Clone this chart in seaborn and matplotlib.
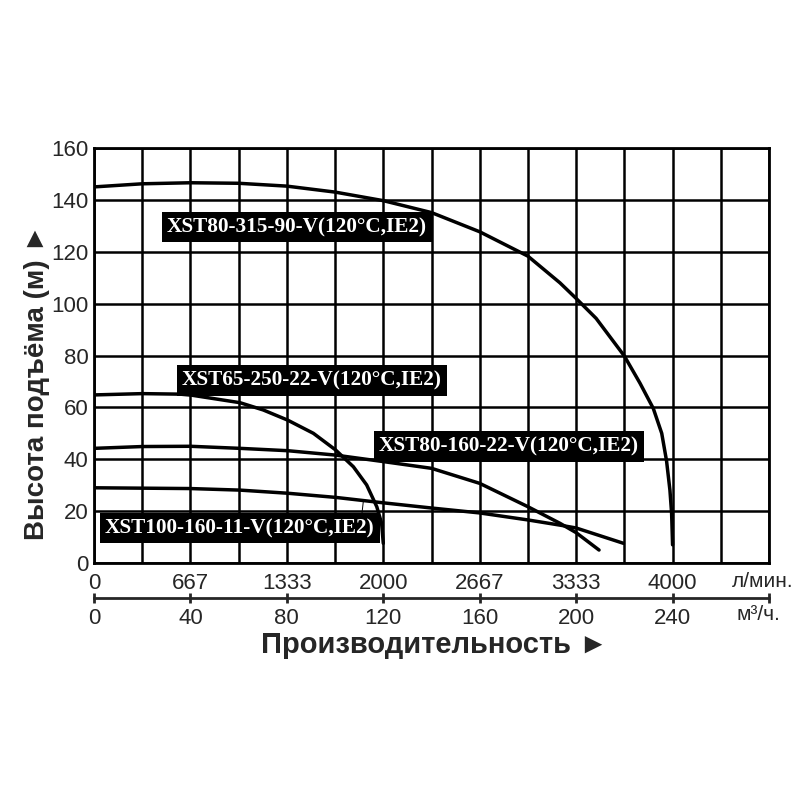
import numpy as np
import pandas as pd
import seaborn as sns
import matplotlib.pyplot as plt

# pump curves, flow in m3/h, head in m
q_315 = [0, 20, 40, 60, 80, 100, 120, 140, 160, 180, 193.3, 200, 208.3, 220, 226.5, 232, 235.5, 237.5, 238.9, 239.6, 240]
h_315 = [145, 146.2, 146.6, 146.4, 145.3, 143, 139.7, 135.1, 127.7, 118.3, 108, 102, 94.3, 79.8, 69.3, 59.6, 50, 39.4, 28.1, 19.2, 7]

q_250 = [0, 20, 35.7, 40.5, 60.6, 70.2, 80.3, 91, 100.2, 107.6, 113.1, 117.3, 119.3, 120]
h_250 = [64.8, 65.3, 65.1, 64.7, 61.8, 59, 55.1, 50, 43.6, 37.1, 30.1, 21.7, 15.3, 7.6]

q_160_22 = [0, 20, 40, 60.6, 80.3, 100.2, 120, 140, 160, 180, 193.3, 200, 209.5]
h_160_22 = [44.2, 44.9, 45.0, 44.2, 43.3, 41.6, 39.1, 36.5, 30.7, 21.7, 15.3, 11.7, 5]

q_160_11 = [0, 40, 60.6, 80.3, 100.2, 120, 140, 160, 180, 193.3, 200, 219.6]
h_160_11 = [29, 28.7, 28.1, 26.9, 25.3, 23.2, 21.2, 19.3, 16.6, 14.6, 13.5, 7.6]

names = ['XST80-315-90-V(120°C,IE2)', 'XST65-250-22-V(120°C,IE2)',
         'XST80-160-22-V(120°C,IE2)', 'XST100-160-11-V(120°C,IE2)']
label_x = [30.3, 36.5, 118.2, 4.6]
label_y = [129.5, 70.4, 44.9, 13.5]

q_ticks = [0, 40, 80, 120, 160, 200, 240]
lmin_labels = ['0', '667', '1333', '2000', '2667', '3333', '4000']
y_ticks = [0, 20, 40, 60, 80, 100, 120, 140, 160]

frames = []
for name, q, h in zip(names, [q_315, q_250, q_160_22, q_160_11],
                      [h_315, h_250, h_160_22, h_160_11]):
    frames.append(pd.DataFrame({'pump': name, 'q': q, 'h': h}))
df = pd.concat(frames, ignore_index=True)

sns.set_style('white')
plt.rcParams['font.family'] = ['Liberation Sans', 'DejaVu Sans']

fig = plt.figure(figsize=(8, 8), dpi=100)
ax = fig.add_axes([94/800, 237/800, 675/800, 415/800])

for name in names:
    sns.lineplot(data=df[df['pump'] == name], x='q', y='h', sort=False,
                 color='black', lw=2.5, ax=ax, zorder=3)

ax.set_xlim(0, 280)
ax.set_ylim(0, 160)
ax.set_xticks(q_ticks)
ax.set_xticklabels(lmin_labels)
ax.set_xticks(np.arange(0, 281, 20), minor=True)
ax.set_yticks(y_ticks)
ax.grid(which='both', color='black', lw=1.8)
ax.tick_params(axis='x', which='both', length=0, pad=7, labelsize=16)
ax.tick_params(axis='y', length=0, pad=4, labelsize=16)
for s in ax.spines.values():
    s.set_color('black')
    s.set_linewidth(2)
ax.set_xlabel('')
ax.set_ylabel('')

# small pointer line near the lowest curve
ax.plot([111, 111.7], [17.9, 23.6], color='black', lw=0.7, zorder=3)

for name, lx, ly in zip(names, label_x, label_y):
    ax.text(lx, ly, name, family='Liberation Serif', fontweight='bold',
            fontsize=15.3, color='white', ha='left', va='center', zorder=5,
            bbox=dict(boxstyle='square,pad=0.25', fc='black', ec='none'))

# second flow scale in m3/h
sec = ax.secondary_xaxis(-0.0843)
sec.set_xticks(q_ticks + [280])
sec.set_xticklabels([str(v) for v in q_ticks] + [''])
sec.tick_params(direction='inout', length=7, width=2, pad=4, labelsize=16)
sec.spines['bottom'].set_linewidth(2)

ax.text(0.99, -0.045, 'л/мин.', transform=ax.transAxes, fontsize=15,
        ha='center', va='center')
ax.text(0.984, -0.125, 'м³/ч.', transform=ax.transAxes, fontsize=15,
        ha='center', va='center')
ax.text(0.504, -0.198, 'Производительность ►', transform=ax.transAxes,
        fontsize=21, fontweight='bold', ha='center', va='center')
ax.text(-0.0844, 0.436, 'Высота подъёма (м) ►', transform=ax.transAxes,
        fontsize=20, fontweight='bold', ha='center', va='center', rotation=90)

fig.savefig('out.png', dpi=100, facecolor='white')
